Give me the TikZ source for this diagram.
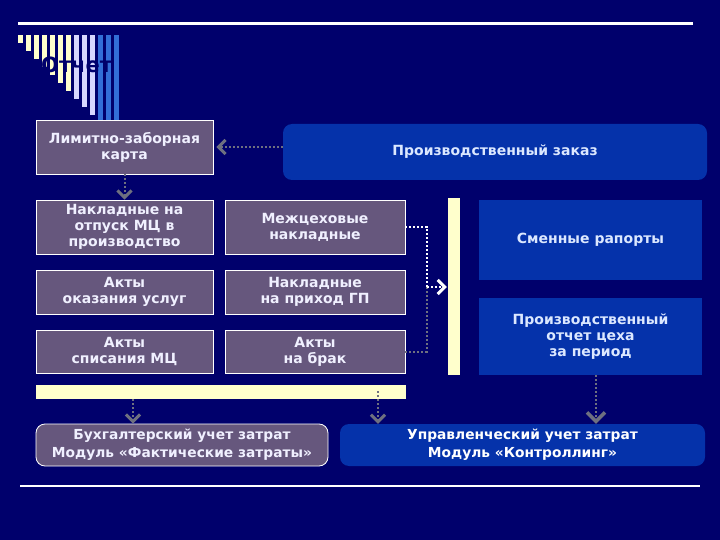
\documentclass[tikz,border=0pt]{standalone}
\usepackage{fontspec}
\setmainfont{DejaVu Sans}
\usetikzlibrary{arrows.meta,calc}
\definecolor{bgnavy}{RGB}{0,0,108}
\definecolor{boxpurple}{RGB}{102,87,125}
\definecolor{boxblue}{RGB}{5,50,170}
\definecolor{paleyellow}{RGB}{255,255,204}
\definecolor{lavender}{RGB}{215,215,255}
\definecolor{stripeblue}{RGB}{50,110,215}
\definecolor{arrgray}{RGB}{110,112,128}
\definecolor{txtlight}{RGB}{240,240,255}
\definecolor{txtblue}{RGB}{220,232,255}
\tikzset{
  pbox/.style={draw=white, line width=0.8pt, fill=boxpurple, text=txtlight,
    font=\bfseries\fontsize{14}{16}\selectfont, align=center, inner sep=0pt},
  bbox/.style={fill=boxblue, text=txtblue,
    font=\bfseries\fontsize{14}{16}\selectfont, align=center, inner sep=0pt},
  ybar/.style={fill=paleyellow, inner sep=0pt},
  gline/.style={draw=arrgray, line width=2pt, dash pattern=on 2pt off 2pt},
  wline/.style={draw=white, line width=2pt, dash pattern=on 2pt off 2pt},
  garr/.style={gline, -{Straight Barb[length=7pt,width=14pt,line width=3pt]}},
  bigarr/.style={gline, -{Straight Barb[length=9pt,width=18pt,line width=3.5pt]}},
  warr/.style={wline, -{Straight Barb[length=7pt,width=14pt,line width=3pt]}, draw=white, color=white},
}
\begin{document}
\begin{tikzpicture}[x=1pt,y=-1pt]
\fill[bgnavy] (0,0) rectangle (720,540);
\useasboundingbox (0,0) rectangle (720,540);

% top decorative line
\draw[white, line width=3pt] (18,24) -- (693,24);
% stripes
\foreach \i in {0,...,6} \fill[paleyellow] ({18+8*\i},35) rectangle ({22.5+8*\i},{43+8*\i});
\foreach \i in {7,...,9} \fill[lavender] ({18+8*\i},35) rectangle ({22.5+8*\i},{43+8*\i});
\foreach \i in {10,...,12} \fill[stripeblue] ({18+8*\i},35) rectangle ({22.5+8*\i},{43+8*\i});
% title (navy letters over stripes)
\node[anchor=base west, inner sep=0pt, text=bgnavy, font=\bfseries\fontsize{21}{24}\selectfont] (title) at (41,73) {Отчет};

% left column
\node[pbox, minimum width=177pt, minimum height=54pt] (b1) at (124.5,147) {Лимитно-заборная\\карта};
\node[pbox, minimum width=177pt, minimum height=54pt] (b2) at (124.5,227) {Накладные на\\отпуск МЦ в\\производство};
\node[pbox, minimum width=177pt, minimum height=44pt] (b3) at (124.5,292) {Акты\\оказания услуг};
\node[pbox, minimum width=177pt, minimum height=43pt] (b4) at (124.5,351.5) {Акты\\списания МЦ};
% middle column
\node[pbox, minimum width=180pt, minimum height=54pt] (b5) at (315,227) {Межцеховые\\накладные};
\node[pbox, minimum width=180pt, minimum height=44pt] (b6) at (315,292) {Накладные\\на приход ГП};
\node[pbox, minimum width=180pt, minimum height=43pt] (b7) at (315,351.5) {Акты\\на брак};
% bars
\node[ybar, minimum width=370pt, minimum height=14pt] (hbar) at (221,392) {};
\node[ybar, minimum width=12pt, minimum height=177pt] (vbar) at (454,286.5) {};
% blue boxes
\node[bbox, rounded corners=9pt, minimum width=424pt, minimum height=56pt] (po) at (495,152) {Производственный заказ};
\node[bbox, minimum width=223pt, minimum height=80pt] (r1) at (590.5,240) {Сменные рапорты};
\node[bbox, minimum width=223pt, minimum height=77pt] (r2) at (590.5,336.5) {Производственный\\отчет цеха\\за период};
% bottom boxes
\node[pbox, rounded corners=9pt, minimum width=292pt, minimum height=42pt, font=\bfseries\fontsize{13.8}{18}\selectfont] (bl) at (182,445) {Бухгалтерский учет затрат\\Модуль «Фактические затраты»};
\node[bbox, rounded corners=9pt, minimum width=365pt, minimum height=42pt, text=white, font=\bfseries\fontsize{13.8}{18}\selectfont] (br) at (522.5,445) {Управленческий учет затрат\\Модуль «Контроллинг»};

% bottom decorative line
\draw[white, line width=1.5pt] (20,486) -- (700,486);

% connectors
\draw[garr] (po.west |- b1.east) -- ([xshift=3pt]b1.east);
\draw[garr] (b1.south) -- (b2.north);
\coordinate (j) at (427,287);
\draw[gline] (b7.east) -| (j);
\draw[wline] (b5.east) -| (j);
\draw[warr] (j) -- ([xshift=-1pt]j -| vbar.west);
\coordinate (s1) at (133,399);
\coordinate (s2) at (378,391);
\draw[garr] (s1) -- (s1 |- bl.north);
\draw[garr] (s2) -- (s2 |- br.north);
\coordinate (s3) at (596,375);
\draw[bigarr] (s3) -- (s3 |- br.north);
\end{tikzpicture}
\end{document}
